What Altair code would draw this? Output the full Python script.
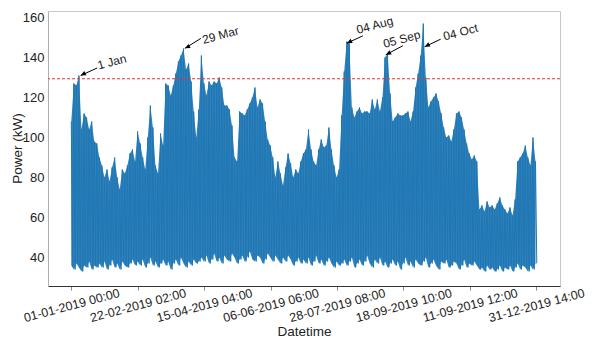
import json
import altair as alt
import pandas as pd

# ---- data (2-day bins: peak value, low value) ----
bin_hours = 48
upper = [
    108, 127, 126, 131, 104, 112, 110, 104, 108, 98,
    97, 90, 86, 80, 84, 78, 85, 90, 80, 74,
    84, 82, 86, 92, 94, 88, 103, 97, 90, 84,
    100, 116, 105, 86, 82, 102, 96, 127, 126, 121,
    126, 132, 138, 141, 144.5, 134, 137, 128, 113, 100,
    114, 141, 127, 121, 128, 126, 128, 127, 130, 125,
    116, 116, 114, 106, 90, 88, 113, 112, 111, 114,
    117, 120, 125, 115, 119, 117, 108, 99, 96, 90,
    80, 88, 82, 76, 85, 92, 87, 80, 84, 82,
    88, 92, 94, 104, 94, 88, 86, 94, 99, 95,
    96, 105, 94, 86, 80, 84, 111, 133, 148, 147,
    115, 110, 113, 115, 112, 113, 113, 112, 119, 114,
    119, 113, 120, 140, 142, 122, 108, 110, 112, 111,
    111, 112, 113, 108, 113, 125, 132, 141, 157, 130,
    115, 118, 120, 122, 118, 112, 105, 100, 101, 98,
    104, 112, 113, 110, 104, 97, 92, 89, 91, 88,
    64, 66, 63, 68, 65, 66, 64, 67, 70, 66,
    64, 62, 65, 61, 69, 88, 90, 92, 96, 90,
    86, 100, 88,
]
lower = [
    36, 34, 37, 35, 33, 36, 35, 38, 34, 36, 35,
    37, 35, 38, 34, 36, 39, 35, 37, 34, 38, 36, 35, 37, 39, 36,
    38, 36, 39, 35, 37, 40, 36, 38, 35, 37, 39, 36, 38, 34, 37, 39, 36, 40, 37, 35,
    38, 36, 39, 37, 38,
    40, 38, 41, 37, 39, 42, 38, 40, 37, 41, 39, 38, 42, 40, 37, 39, 41, 38, 40, 43,
    39, 38, 41, 40, 37, 39, 42, 40, 38, 41, 39, 37, 40, 38, 41, 39, 36, 38, 40, 37,
    39, 37, 40, 36, 38, 41, 37, 39, 36, 38, 40, 37, 35, 38, 36,
    37, 39, 36, 38, 40, 35, 37, 39, 36, 38, 41, 37, 35, 39, 37, 40, 36, 38, 35, 37,
    39, 36, 38, 34, 37, 40, 36, 38, 35, 39, 37, 36, 38, 40, 35, 37, 39, 36, 34, 38,
    37, 39, 35, 36, 38, 37, 34, 36, 39, 35, 37, 36, 38,
    36, 34, 35, 33, 36, 34, 35, 33, 34, 36, 33, 35, 34, 36, 33, 35, 37, 34, 36, 35,
    33, 36, 34, 37,
]

tick_hours = [0, 1250, 2500, 3750, 5000, 6250, 7500, 8750]
tick_labels = [
    "01-01-2019 00:00", "22-02-2019 02:00", "15-04-2019 04:00", "06-06-2019 06:00",
    "28-07-2019 08:00", "18-09-2019 10:00", "11-09-2019 12:00", "31-12-2019 14:00",
]
y_ticks = [40, 60, 80, 100, 120, 140, 160]
threshold = [129.4]

ann_labels = ["1 Jan", "29 Mar", "04 Aug", "05 Sep", "04 Oct"]
ann_tip_hour = [176, 2138, 5188, 5920, 6651]
ann_tip_val = [131.0, 144.6, 147.2, 141.4, 145.4]
ann_tail_hour = [488, 2438, 5488, 6238, 6951]
ann_tail_val = [134.8, 149.6, 150.9, 145.9, 149.2]
ann_text_hour = [765, 2807, 5713, 6219, 7326]
ann_text_val = [137.8, 151.2, 156.2, 149.2, 152.7]

assert len(upper) == len(lower) == 183

rows = []
for k, (hi, lo) in enumerate(zip(upper, lower)):
    rows.append({"hour": k * bin_hours, "power": hi})
    rows.append({"hour": k * bin_hours + bin_hours // 2, "power": lo})
series = pd.DataFrame(rows)

band = pd.DataFrame({
    "hour": [k * bin_hours for k in range(len(upper))],
    "power": upper,
    "low": lower,
})

ann = pd.DataFrame({
    "label": ann_labels,
    "tip_h": ann_tip_hour, "tip_v": ann_tip_val,
    "tail_h": ann_tail_hour, "tail_v": ann_tail_val,
    "text_h": ann_text_hour, "text_v": ann_text_val,
})
thr = pd.DataFrame({"power": threshold})

FONT = "Liberation Sans"
BLUE = "#1f77b4"
x_scale = alt.Scale(domain=[-438, 9197], nice=False, zero=False)
y_scale = alt.Scale(domain=[25.7, 163.3], nice=False, zero=False)

label_expr = f"{json.dumps(tick_labels)}[indexof({json.dumps(tick_hours)}, datum.value)]"

x_axis = alt.Axis(
    values=tick_hours, labelExpr=label_expr, title="Datetime",
    labelAngle=345, labelAlign="center", labelBaseline="middle",
    labelPadding=15, tickSize=4, tickColor="#888888", domainColor="#333333",
    domainWidth=1.2, labelOverlap=False, labelBound=False, labelFlush=False,
    labelFont=FONT, labelFontSize=12.5, labelColor="#222222",
    titleFont=FONT, titleFontSize=13.5, titleFontWeight="normal", titleColor="#222222",
    titleX=256, titleY=45, titleBaseline="middle", titleAlign="center",
    grid=False)
y_axis = alt.Axis(
    values=y_ticks, title="Power (kW)", ticks=False, labelPadding=4,
    domainColor="#b0b0b0", labelFont=FONT, labelFontSize=13, labelColor="#222222",
    titleFont=FONT, titleFontSize=13.5, titleFontWeight="normal", titleColor="#222222",
    titleX=-31, titleY=137, titleBaseline="middle", titleAlign="center", titleAngle=270,
    grid=False)

area = alt.Chart(band).mark_area(color=BLUE, opacity=0.92).encode(
    x=alt.X("hour:Q", scale=x_scale, axis=x_axis),
    y=alt.Y("power:Q", scale=y_scale, axis=y_axis),
    y2="low:Q",
)

line = alt.Chart(series).mark_line(color=BLUE, strokeWidth=1).encode(
    x=alt.X("hour:Q", scale=x_scale),
    y=alt.Y("power:Q", scale=y_scale),
)

rule = alt.Chart(thr).mark_rule(color="#f03030", strokeDash=[3, 2], strokeWidth=1.2).encode(
    y=alt.Y("power:Q", scale=y_scale)
)

arrows = alt.Chart(ann).mark_rule(color="black", strokeWidth=1).encode(
    x=alt.X("tail_h:Q", scale=x_scale),
    y=alt.Y("tail_v:Q", scale=y_scale),
    x2="tip_h:Q", y2="tip_v:Q",
)
heads = alt.Chart(ann).mark_point(
    shape="M0,0L-0.45,1L0.45,1Z", filled=True, color="black", opacity=1, size=110, angle=243
).encode(
    x=alt.X("tip_h:Q", scale=x_scale),
    y=alt.Y("tip_v:Q", scale=y_scale),
)
texts = alt.Chart(ann).mark_text(
    angle=345, font=FONT, fontSize=12, color="#222222", align="center", baseline="middle"
).encode(
    x=alt.X("text_h:Q", scale=x_scale),
    y=alt.Y("text_v:Q", scale=y_scale),
    text="label:N",
)

chart = alt.layer(area, line, rule, arrows, heads, texts).properties(
    width=512, height=275,
    autosize=alt.AutoSizeParams(type="none"),
    padding={"left": 40, "top": 3, "right": 25, "bottom": 52},
    background="white",
).configure_view(stroke="#c8c8c8", strokeWidth=1)

chart.save("out.html", embed_options={"renderer": "svg", "actions": False})
